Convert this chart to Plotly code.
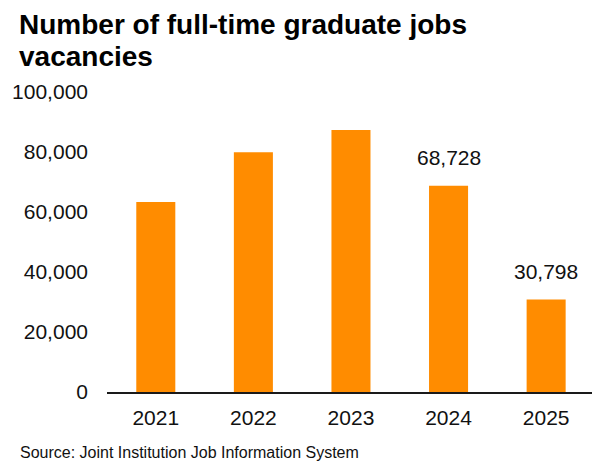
import plotly.graph_objects as go

years = ["2021", "2022", "2023", "2024", "2025"]
vacancies = [63300, 79900, 87300, 68728, 30798]
labels = ["", "", "", "68,728", "30,798"]
y_ticks = [0, 20000, 40000, 60000, 80000, 100000]
y_tick_text = ["0", "20,000", "40,000", "60,000", "80,000", "100,000"]
title_lines = ["Number of full-time graduate jobs", "vacancies"]
source = "Source: Joint Institution Job Information System"

W, H = 592, 462
L, R, T, B = 107, 0, 92, 70
PW, PH = W - L - R, H - T - B

def px_x(x):
    return (x - L) / PW

def px_y(y):
    return (H - B - y) / PH

FONT = "Liberation Sans, Arial, sans-serif"

fig = go.Figure()
fig.add_trace(go.Bar(
    x=years, y=vacancies,
    marker=dict(color="#FF8C00", line=dict(width=0)),
    hoverinfo="skip",
))

annotations = []
for i, (v, lab) in enumerate(zip(vacancies, labels)):
    if lab:
        annotations.append(dict(
            x=i, y=v, xref="x", yref="y", text=lab, showarrow=False,
            yanchor="bottom", yshift=15,
            font=dict(family=FONT, size=21, color="#111111"),
        ))

annotations.append(dict(
    x=px_x(17), y=px_y(25), xref="paper", yref="paper", text="<b>" + title_lines[0] + "</b>",
    showarrow=False, xanchor="left", yanchor="middle",
    font=dict(family=FONT, size=28, color="#000000"),
))
annotations.append(dict(
    x=px_x(17), y=px_y(57), xref="paper", yref="paper", text="<b>" + title_lines[1] + "</b>",
    showarrow=False, xanchor="left", yanchor="middle",
    font=dict(family=FONT, size=28, color="#000000"),
))
annotations.append(dict(
    x=px_x(18), y=px_y(452), xref="paper", yref="paper", text=source,
    showarrow=False, xanchor="left", yanchor="middle",
    font=dict(family=FONT, size=16, color="#111111"),
))

fig.update_layout(
    width=W, height=H,
    margin=dict(l=L, r=R, t=T, b=B, pad=0),
    paper_bgcolor="white", plot_bgcolor="white",
    bargap=0.6,
    showlegend=False,
    annotations=annotations,
    font=dict(family=FONT, size=21, color="#111111"),
)
fig.update_xaxes(
    type="category",
    range=[-0.5, 4.47],
    showline=True, linecolor="#1a1a1a", linewidth=2,
    showgrid=False, zeroline=False, ticks="",
    tickfont=dict(family=FONT, size=21, color="#111111"),
    ticklabelstandoff=6,
    fixedrange=True,
)
fig.update_yaxes(
    range=[0, 100000],
    tickvals=y_ticks, ticktext=y_tick_text,
    showline=False, showgrid=False, zeroline=False, ticks="",
    tickfont=dict(family=FONT, size=21, color="#111111"),
    ticklabelstandoff=18,
    fixedrange=True,
)

fig.write_html("out.html", config={"displayModeBar": False})
